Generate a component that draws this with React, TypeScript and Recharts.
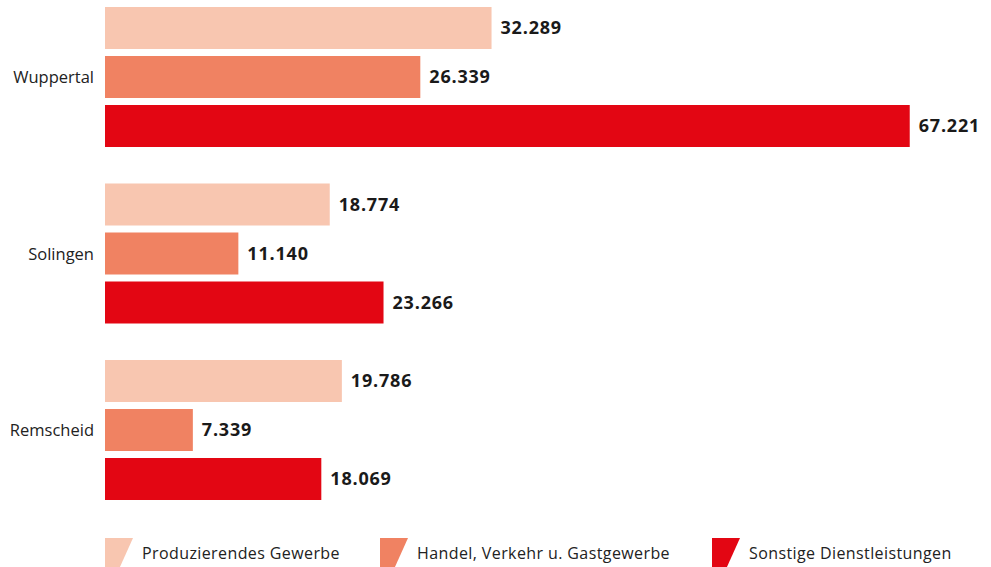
import React from 'react';
import { BarChart, Bar, XAxis, YAxis, Legend, LabelList } from 'recharts';

const cities = ['Wuppertal', 'Solingen', 'Remscheid'];
const produzierend = [32289, 18774, 19786];
const handel = [26339, 11140, 7339];
const sonstige = [67221, 23266, 18069];

const SERIES = [
  { key: 'produzierend', label: 'Produzierendes Gewerbe', color: '#F8C6B0' },
  { key: 'handel', label: 'Handel, Verkehr u. Gastgewerbe', color: '#F08262' },
  { key: 'sonstige', label: 'Sonstige Dienstleistungen', color: '#E30613' },
];

const data = cities.map((name, i) => ({
  name,
  produzierend: produzierend[i],
  handel: handel[i],
  sonstige: sonstige[i],
}));

const FONT = '"Open Sans", sans-serif';

// 67221 -> "67.221"
const fmt = (v: any) => String(v).replace(/\B(?=(\d{3})+(?!\d))/g, '.');

const legendWidths = [275, 332, 260];

function LegendContent() {
  return (
    <div style={{ display: 'flex', fontFamily: FONT, fontSize: 16, color: '#222', letterSpacing: 0.4 }}>
      {SERIES.map((s, i) => (
        <div key={s.key} style={{ display: 'flex', alignItems: 'center', width: legendWidths[i] }}>
          <svg width={28} height={30} style={{ marginRight: 9, flexShrink: 0 }}>
            <polygon points="0,0 28,0 14.5,30 0,30" fill={s.color} />
          </svg>
          <span>{s.label}</span>
        </div>
      ))}
    </div>
  );
}

export default function App() {
  return (
    <div style={{ position: 'absolute', left: 0, top: -11, width: 991, height: 578 }}>
      <BarChart
        width={991}
        height={578}
        data={data}
        layout="vertical"
        margin={{ top: 0, right: 48, bottom: 48.5, left: 0 }}
        barSize={42}
        barGap={7}
      >
        <XAxis type="number" domain={[0, 70000]} hide />
        <YAxis
          type="category"
          dataKey="name"
          width={105}
          axisLine={false}
          tickLine={false}
          tickSize={0}
          tickMargin={11}
          tick={{ fill: '#222', fontSize: 16.5, fontFamily: FONT }}
        />
        <Legend
          layout="vertical"
          align="center"
          verticalAlign="middle"
          content={<LegendContent />}
          wrapperStyle={{ top: 549, left: 105, width: 880, height: 30 }}
        />
        {SERIES.map((s) => (
          <Bar key={s.key} dataKey={s.key} name={s.label} fill={s.color} isAnimationActive={false}>
            <LabelList
              dataKey={s.key}
              position="right"
              offset={9}
              formatter={fmt}
              style={{ fill: '#1a1a1a', fontSize: 18, fontWeight: 700, fontFamily: FONT, letterSpacing: 0.8 }}
            />
          </Bar>
        ))}
      </BarChart>
    </div>
  );
}
